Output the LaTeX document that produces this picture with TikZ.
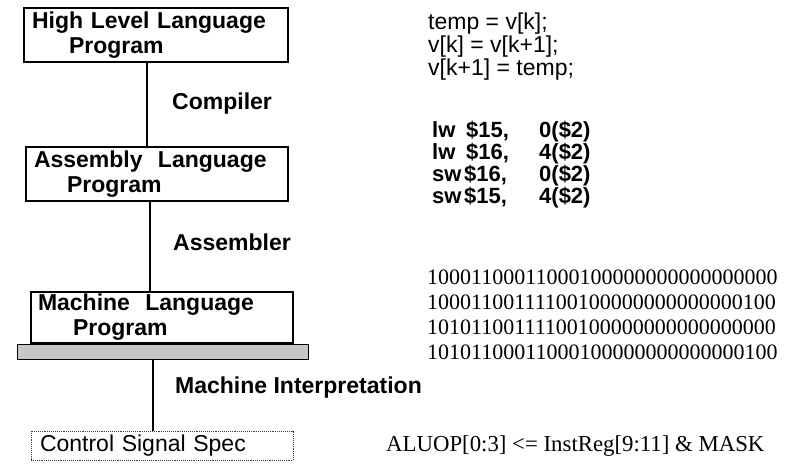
\documentclass[tikz,border=0pt]{standalone}
\usepackage{fontspec}
\setmainfont{Liberation Sans}
\newfontfamily\timesfont{Liberation Serif}
\usetikzlibrary{positioning}

\tikzset{
  progbox/.style={draw, line width=1.2pt, align=left, inner xsep=8pt, inner ysep=0pt,
    font=\bfseries\fontsize{23}{25}\selectfont},
  busbar/.style={draw, line width=1pt, fill=black!22},
  ctlbox/.style={draw=black!75, densely dotted, line width=0.9pt, align=left,
    inner xsep=9pt, inner ysep=0pt, font=\fontsize{23}{23}\selectfont},
  link/.style={line width=2pt},
  steplabel/.style={anchor=base west, inner sep=0pt, font=\bfseries\fontsize{23}{23}\selectfont},
  srcline/.style={anchor=base west, inner sep=0pt, font=\fontsize{23}{23}\selectfont},
  asmline/.style={anchor=base west, inner sep=0pt, font=\bfseries\fontsize{22}{22}\selectfont},
  binline/.style={anchor=base west, inner sep=0pt, font=\timesfont\fontsize{22}{22}\selectfont}
}

\begin{document}
\begin{tikzpicture}[x=1pt,y=-1pt]
  \useasboundingbox (0,0) rectangle (802,475);

  % translation levels
  \node[progbox, text width=248pt, minimum height=54pt] (hll) at (156,35)
    {High Level Language\\\hspace*{37pt}Program};
  \node[progbox, text width=246pt, minimum height=54pt] (asm) at (157,174)
    {Assembly\ \ Language\\\hspace*{33pt}Program};
  \node[progbox, inner xsep=7pt, text width=248pt, minimum height=51pt] (mlp) at (162,317.5)
    {Machine\ \ Language\\\hspace*{35pt}Program};
  \node[busbar, minimum width=291pt, minimum height=15pt] (bar) at (162.5,351.5) {};
  \node[ctlbox, text width=244pt, minimum height=29pt] (ctl) at (162,445.5)
    {Control Signal Spec};

  \draw[link] ([xshift=-9pt]hll.south) to ([xshift=-10pt]asm.north);
  \draw[link] ([xshift=-7pt]asm.south) to ([xshift=-12pt]mlp.north);
  \draw[link] ([xshift=-9.5pt]bar.south) to ([xshift=-9pt]ctl.north);

  \node[steplabel] (comp) at (172,109) {Compiler};
  \node[steplabel] (assm) at (173,250) {Assembler};
  \node[steplabel] (interp) at (175,393) {Machine Interpretation};

  % source code
  \node[srcline] (s1) at (428,29) {temp = v[k];};
  \node[srcline] (s2) at (428,52) {v[k] = v[k+1];};
  \node[srcline] (s3) at (428,75) {v[k+1] = temp;};

  % assembly
  \node[asmline] (a1) at (432,137) {\makebox[34pt][l]{lw}\makebox[73pt][l]{\$15,}0(\$2)};
  \node[asmline] (a2) at (432,159) {\makebox[34pt][l]{lw}\makebox[73pt][l]{\$16,}4(\$2)};
  \node[asmline] (a3) at (432,181) {\makebox[32pt][l]{sw}\makebox[75pt][l]{\$16,}0(\$2)};
  \node[asmline] (a4) at (432,203) {\makebox[32pt][l]{sw}\makebox[75pt][l]{\$15,}4(\$2)};

  % machine code
  \node[binline] (b1) at (427,284) {10001100011000100000000000000000};
  \node[binline] (b2) at (427,309) {10001100111100100000000000000100};
  \node[binline] (b3) at (427,334) {10101100111100100000000000000000};
  \node[binline] (b4) at (427,359) {10101100011000100000000000000100};

  % control signals
  \node[binline, font=\timesfont\fontsize{22.8}{22.8}\selectfont] (alu) at (386,451)
    {ALUOP[0:3] <= InstReg[9:11] \& MASK};
\end{tikzpicture}
\end{document}
